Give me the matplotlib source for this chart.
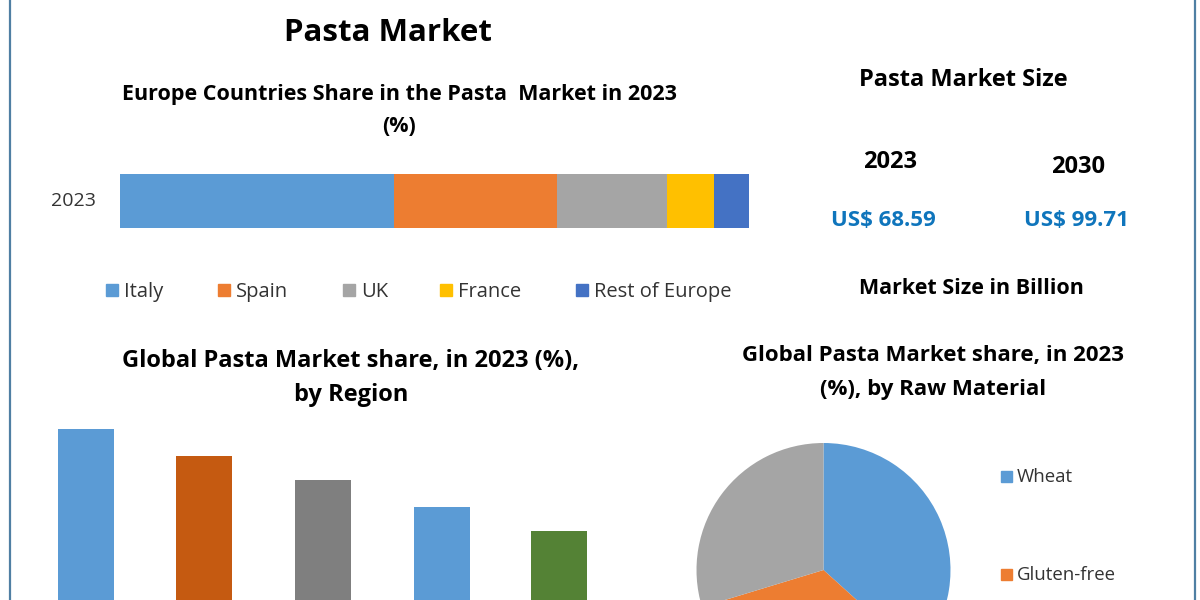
import matplotlib
matplotlib.use("Agg")
import matplotlib.pyplot as plt
from matplotlib.lines import Line2D

W, H = 1200, 600

# Europe share, % (stacked bar)
countries = ["Italy", "Spain", "UK", "France", "Rest of Europe"]
country_share = [43.6, 25.9, 17.5, 7.5, 5.5]
country_colors = ["#5B9BD5", "#ED7D31", "#A5A5A5", "#FFC000", "#4472C4"]

# Regional share, % (labels are cropped out of the picture)
region_share = [35.0, 29.8, 25.2, 20.0, 15.4]
region_colors = ["#5B9BD5", "#C55A11", "#7F7F7F", "#5B9BD5", "#548235"]

# Raw material share, % (third label is cropped out)
material_labels = ["Wheat", "Gluten-free"]
material_share = [36.7, 33.6, 29.7]
material_colors = ["#5B9BD5", "#ED7D31", "#A5A5A5"]

plt.rcParams["font.family"] = ["Open Sans", "DejaVu Sans"]

fig = plt.figure(figsize=(12, 6), dpi=100, facecolor="white")


def axes_px(x0, y0, x1, y1):
    # pixel box, y counted from the top of the image
    return fig.add_axes([x0 / W, 1 - y1 / H, (x1 - x0) / W, (y1 - y0) / H])


def label(x, y, s, size=16, weight="bold", color="black", ha="center"):
    fig.text(x / W, 1 - y / H, s, fontsize=size, fontweight=weight, color=color,
             ha=ha, va="center")


# frame lines
fig.add_artist(Line2D([10 / W, 10 / W], [0, 1], color="#4F7FA3", lw=1.6))
fig.add_artist(Line2D([1195 / W, 1195 / W], [0, 1], color="#4F7FA3", lw=1.6))

label(388, 33, "Pasta Market", size=22.5)
label(399, 94, "Europe Countries Share in the Pasta  Market in 2023", size=15.5)
label(399, 126, "(%)", size=15.5)

# stacked bar
ax = axes_px(120, 174, 749, 228)
left = 0
for share, color in zip(country_share, country_colors):
    ax.barh([0], [share], left=left, height=1, color=color)
    left += share
ax.set_xlim(0, sum(country_share))
ax.set_ylim(-0.5, 0.5)
ax.axis("off")
label(73, 201, "2023", size=14, weight="normal", color="#333333")

# legend of the stacked bar
legend_x = [106, 218, 343, 440, 576]
for x, name, color in zip(legend_x, countries, country_colors):
    fig.add_artist(plt.Rectangle((x / W, 1 - 296 / H), 12 / W, 12 / H, color=color,
                                 transform=fig.transFigure))
    label(x + 18, 292, name, size=14.5, weight="normal", color="#333333", ha="left")

# market size panel
label(963, 80, "Pasta Market Size", size=17)
label(890, 162, "2023", size=17)
label(1078, 167, "2030", size=17)
label(883, 220, "US$ 68.59", size=16, color="#0F75BC")
label(1076, 220, "US$ 99.71", size=16, color="#0F75BC")
label(971, 289, "Market Size in Billion", size=15.5)

# region bars
label(351, 361, "Global Pasta Market share, in 2023 (%),", size=17)
label(351, 395, "by Region", size=17)
ax = axes_px(0, 400, 650, 600)
ax.bar([86, 204, 323, 442, 559], region_share, width=56, color=region_colors)
ax.set_xlim(0, 650)
ax.set_ylim(2.1, 40.6)
ax.axis("off")

# raw material pie
label(933, 355, "Global Pasta Market share, in 2023", size=16)
label(933, 389, "(%), by Raw Material", size=16)
ax = axes_px(823.5 - 130, 570 - 130, 823.5 + 130, 570 + 130)
ax.pie(material_share, colors=material_colors, startangle=90, counterclock=False,
       radius=127 / 130)
ax.set_xlim(-1, 1)
ax.set_ylim(-1, 1)
ax.patch.set_visible(False)

for y, name, color in zip([476, 574], material_labels, material_colors):
    fig.add_artist(plt.Rectangle((1001 / W, 1 - (y + 6) / H), 11 / W, 11 / H, color=color,
                                 transform=fig.transFigure))
    label(1017, y + 1, name, size=13.4, weight="normal", color="#333333", ha="left")

fig.savefig("out.png", dpi=100)
